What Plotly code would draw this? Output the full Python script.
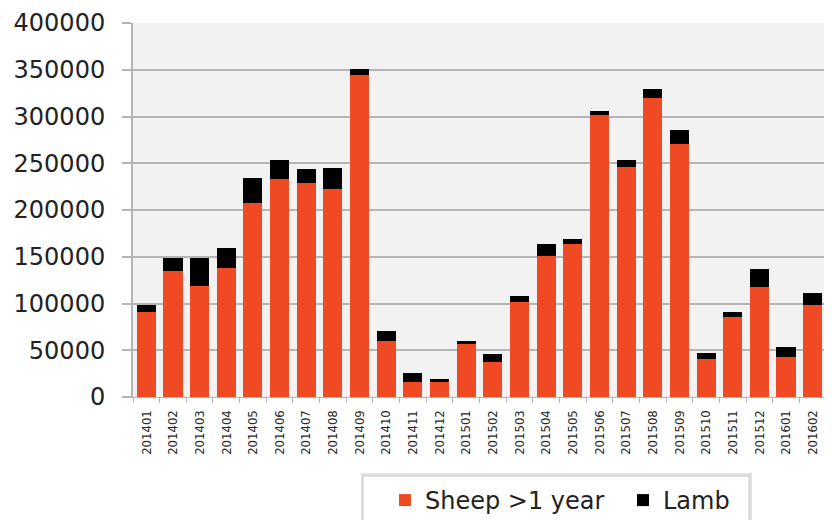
import plotly.graph_objects as go

months = ["201401","201402","201403","201404","201405","201406","201407","201408",
          "201409","201410","201411","201412","201501","201502","201503","201504",
          "201505","201506","201507","201508","201509","201510","201511","201512",
          "201601","201602"]
sheep = [91000,135000,119000,138000,208000,233000,229000,222000,
         344000,60000,16000,16500,56500,37500,101500,151000,
         164000,302000,246000,319500,270500,40500,86000,117500,
         42500,98500]
lamb = [7000,14000,30000,21000,26500,20500,14500,22500,
        7000,10500,9500,2500,3500,8500,6000,12500,
        5500,3500,7000,9500,15000,7000,5000,19500,
        10500,12500]

ORANGE = "#EF4A24"
GRID = "#b5b5b5"

# page has an 8px body margin, so the figure is sized/offset to compensate
W, H = 824, 512
ML, MR, MT, MB = 125, 6, 15, 123
PW, PH = W - ML - MR, H - MT - MB

def px_x(x):  # page x -> paper
    return (x - 8 - ML) / PW

def px_y(y):  # page y -> paper
    return (H - MB - (y - 8)) / PH

fig = go.Figure()
fig.add_trace(go.Bar(x=months, y=sheep, name="Sheep >1 year",
                     marker=dict(color=ORANGE, line=dict(width=0))))
fig.add_trace(go.Bar(x=months, y=lamb, name="Lamb",
                     marker=dict(color="#000000", line=dict(width=0))))

# legend box with soft shadow
fig.add_shape(type="rect", xref="paper", yref="paper", layer="below",
              x0=px_x(361), x1=px_x(752), y0=px_y(540), y1=px_y(473),
              fillcolor="#e2e2e2", line=dict(width=0))
fig.add_shape(type="rect", xref="paper", yref="paper", layer="below",
              x0=px_x(363), x1=px_x(749), y0=px_y(540), y1=px_y(476),
              fillcolor="white", line=dict(color="#c8c8c8", width=1))

fig.update_layout(
    width=W, height=H,
    barmode="stack", bargap=0.285,
    paper_bgcolor="white", plot_bgcolor="#f2f2f2",
    margin=dict(l=ML, r=MR, t=MT, b=MB, autoexpand=False),
    font=dict(family="DejaVu Sans", color="#222222"),
    showlegend=True,
    legend=dict(orientation="h", xref="container", yref="container",
                x=(385 - 8) / W, xanchor="left", y=1 - (478 - 8) / H, yanchor="top",
                bgcolor="rgba(0,0,0,0)", borderwidth=0,
                font=dict(size=24, family="DejaVu Sans", color="#222222"),
                itemwidth=30, entrywidth=193, traceorder="normal"),
)
fig.update_xaxes(type="category", tickangle=-90, automargin=False,
                 tickfont=dict(size=13, family="DejaVu Sans Condensed", color="#2a2a2a"),
                 showgrid=False, ticks="outside", tickson="boundaries", ticklen=5, tickcolor=GRID,
                 ticklabelstandoff=7,
                 showline=True, linecolor=GRID, linewidth=1, range=[-0.5, 25.5])
fig.update_yaxes(range=[0, 400000], automargin=False,
                 tickvals=[0,50000,100000,150000,200000,250000,300000,350000,400000],
                 ticktext=["0","50000","100000","150000","200000","250000","300000","350000","400000"],
                 tickfont=dict(size=24, family="DejaVu Sans", color="#222222"),
                 ticklabelstandoff=12,
                 showgrid=True, gridcolor=GRID, gridwidth=2, ticks="outside", ticklen=9, tickcolor=GRID, tickwidth=2,
                 showline=True, linecolor=GRID, linewidth=2, zeroline=False)

fig.write_html("out.html")
